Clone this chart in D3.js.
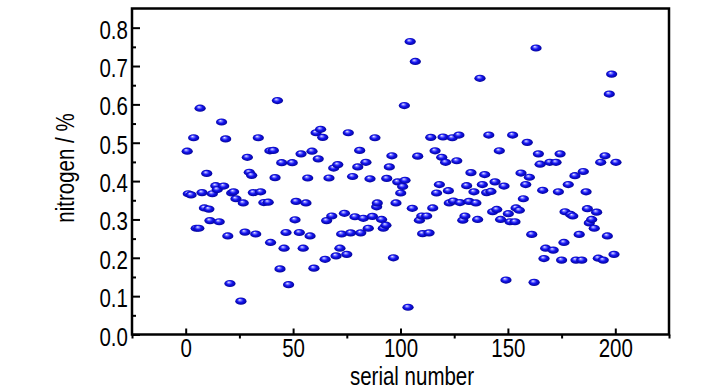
<!DOCTYPE html>
<html>
<head>
<meta charset="utf-8">
<script src="https://cdn.jsdelivr.net/npm/d3@7"></script>
<style>
  body { margin: 0; background: #fff; }
  text { font-family: "Liberation Sans", Arial, sans-serif; }
</style>
</head>
<body>
<div id="chart"></div>
<script>
// values
var serial = [0.7, 1.2, 2.5, 3.7, 4.9, 6.1, 6.7, 7.6, 8.7, 9.8, 10.8, 11.3, 12.4, 14.0, 14.7, 15.6, 16.7, 17.7, 18.6, 19.6,
  20.6, 21.4, 22.3, 23.4, 25.7, 26.8, 27.6, 28.7, 29.6, 30.7, 31.5, 32.6, 33.8, 34.9, 36.4, 38.4, 39.2, 39.5,
  40.8, 41.6, 42.7, 43.9, 44.7, 45.8, 46.7, 47.9, 49.6, 50.9, 51.4, 52.9, 53.7, 54.7, 56.0, 56.8, 57.9, 58.8, 59.7,
  60.7, 61.7, 62.8, 63.8, 64.9, 65.6, 66.7, 68.0, 68.9, 70.0, 70.8, 71.8, 72.6, 73.9, 75.0, 75.7, 76.8, 77.7, 78.8,
  80.1, 81.0, 81.5, 82.7, 83.9, 85.0, 85.8, 86.9, 88.1, 88.9, 89.2, 91.2, 92.0, 93.2, 93.6, 94.8, 96.0, 96.7, 97.9,
  98.7, 100.1, 101.0, 101.8, 102.1, 103.5, 104.5, 105.5, 106.9, 108.0, 108.8, 109.9, 110.3, 112.2, 113.3, 114.1,
  115.0, 116.1, 116.8, 118.1, 119.2, 119.8, 121.0, 122.3, 122.7, 124.1, 124.6, 126.2, 127.2, 127.7, 129.0, 130.0,
  130.8, 131.9, 132.8, 134.2, 135.1, 135.9, 137.0, 138.1, 139.2, 140.1, 141.1, 142.1, 142.9, 144.0, 144.8, 146.0,
  146.6, 148.2, 149.1, 150.2, 151.0, 152.2, 153.3, 153.8, 155.3, 156.1, 157.2, 158.3, 159.0, 160.0, 161.1, 162.2,
  163.1, 164.2, 165.0, 166.2, 166.8, 167.6, 169.5, 171.1, 172.4, 173.5, 174.3, 175.0, 176.1, 176.6, 178.1, 179.2,
  180.2, 181.2, 181.7, 183.2, 184.4, 185.1, 186.4, 187.0, 187.9, 189.0, 190.2, 191.3, 192.1, 193.2, 194.4, 195.2,
  196.3, 197.2, 198.3, 199.4, 200.3];

var nitrogen = [0.478, 0.367, 0.364, 0.513, 0.277, 0.277, 0.590, 0.370, 0.330, 0.420, 0.327, 0.297, 0.367, 0.388, 0.378, 0.294, 0.554, 0.387, 0.510, 0.257,
  0.133, 0.369, 0.372, 0.354, 0.087, 0.343, 0.267, 0.462, 0.423, 0.415, 0.370, 0.262, 0.513, 0.372, 0.344, 0.345, 0.479, 0.240,
  0.480, 0.409, 0.610, 0.171, 0.448, 0.225, 0.266, 0.130, 0.448, 0.299, 0.347, 0.266, 0.471, 0.225, 0.343, 0.408, 0.257, 0.478, 0.173,
  0.526, 0.458, 0.535, 0.514, 0.196, 0.297, 0.408, 0.309, 0.434, 0.205, 0.443, 0.225, 0.262, 0.316, 0.209, 0.526, 0.265, 0.412, 0.307,
  0.437, 0.480, 0.265, 0.303, 0.449, 0.277, 0.406, 0.308, 0.513, 0.333, 0.343, 0.300, 0.277, 0.285, 0.407, 0.437, 0.466, 0.200, 0.343,
  0.398, 0.369, 0.386, 0.597, 0.402, 0.071, 0.764, 0.329, 0.712, 0.465, 0.298, 0.309, 0.263, 0.309, 0.265, 0.514,
  0.330, 0.479, 0.369, 0.391, 0.462, 0.515, 0.449, 0.375, 0.343, 0.513, 0.348, 0.453, 0.520, 0.344, 0.298, 0.309,
  0.388, 0.347, 0.422, 0.372, 0.343, 0.300, 0.668, 0.391, 0.417, 0.370, 0.520, 0.373, 0.320, 0.398, 0.326, 0.479,
  0.300, 0.387, 0.142, 0.315, 0.294, 0.520, 0.294, 0.330, 0.324, 0.421, 0.354, 0.391, 0.501, 0.410, 0.261, 0.136,
  0.747, 0.471, 0.444, 0.376, 0.198, 0.225, 0.449, 0.220, 0.449, 0.372, 0.471, 0.194, 0.240, 0.320, 0.391, 0.313,
  0.309, 0.414, 0.194, 0.261, 0.194, 0.425, 0.372, 0.328, 0.291, 0.300, 0.277, 0.319, 0.199, 0.449, 0.194, 0.466,
  0.257, 0.627, 0.679, 0.209, 0.449];

var xTicks = [0, 50, 100, 150, 200];
var yTicks = [0, 0.1, 0.2, 0.3, 0.4, 0.5, 0.6, 0.7, 0.8];

var svgWidth = 728;
var svgHeight = 390;

var plot = { left: 132, right: 669, top: 8.5, bottom: 334.5 };
var squeeze = 0.82; // the reference lettering is a condensed sans

var svg = d3.select("#chart")
  .append("svg")
  .attr("width", svgWidth)
  .attr("height", svgHeight);

// shaded ball marker
var grad = svg.append("defs").append("radialGradient")
  .attr("id", "ball")
  .attr("cx", "50%").attr("cy", "50%").attr("r", "55%")
  .attr("fx", "38%").attr("fy", "30%");
grad.append("stop").attr("offset", "0%").attr("stop-color", "#f4f4ff");
grad.append("stop").attr("offset", "22%").attr("stop-color", "#8080ff");
grad.append("stop").attr("offset", "50%").attr("stop-color", "#1515f0");
grad.append("stop").attr("offset", "100%").attr("stop-color", "#00008a");

var x = d3.scaleLinear().domain([-25, 225]).range([plot.left, plot.right]);
var y = d3.scaleLinear().domain([0, 0.85]).range([plot.bottom, plot.top]);

var data = serial.map(function(s, i) { return { s: s, n: nitrogen[i] }; });

// points
svg.append("g").selectAll("ellipse")
  .data(data)
  .enter()
  .append("ellipse")
  .attr("cx", d => x(d.s))
  .attr("cy", d => y(d.n))
  .attr("rx", 5.6)
  .attr("ry", 3.6)
  .attr("fill", "url(#ball)");

// y axis, major + minor ticks pointing inward
var yAxis = svg.append("g")
  .attr("transform", `translate(${plot.left},0)`)
  .call(d3.axisLeft(y).tickValues(yTicks).tickSize(-8).tickPadding(5).tickFormat(d3.format(".1f")));

svg.append("g")
  .attr("transform", `translate(${plot.left},0)`)
  .call(d3.axisLeft(y).tickValues(d3.range(0.05, 0.85, 0.1)).tickSize(-4).tickFormat(""));

// x axis: major ticks inside, minor ticks outside
var xAxis = svg.append("g")
  .attr("transform", `translate(0,${plot.bottom})`)
  .call(d3.axisBottom(x).tickValues(xTicks).tickSize(-6).tickPadding(5));

svg.append("g")
  .attr("transform", `translate(0,${plot.bottom})`)
  .call(d3.axisBottom(x).tickValues([-25, 25, 75, 125, 175, 225]).tickSize(4).tickFormat(""));

svg.selectAll(".domain").remove();
svg.selectAll(".tick line").attr("stroke", "#000").attr("stroke-width", 2);
svg.selectAll(".tick text")
  .attr("font-size", "25px")
  .attr("fill", "#000")
  .attr("transform", `scale(${squeeze},1)`)
  .style("font-family", "'Liberation Sans', Arial, sans-serif");
yAxis.selectAll(".tick text").attr("dy", "0.42em");

// frame
svg.append("rect")
  .attr("x", plot.left)
  .attr("y", plot.top)
  .attr("width", plot.right - plot.left)
  .attr("height", plot.bottom - plot.top)
  .attr("fill", "none")
  .attr("stroke", "#000")
  .attr("stroke-width", 2.5);

// axis titles
svg.append("text")
  .attr("transform", `translate(412,385) scale(${squeeze},1)`)
  .attr("text-anchor", "middle")
  .attr("font-size", "25px")
  .text("serial number");

svg.append("text")
  .attr("transform", `translate(74,168) rotate(-90) scale(${squeeze},1)`)
  .attr("text-anchor", "middle")
  .attr("font-size", "25px")
  .text("nitrogen / %");
</script>
</body>
</html>
